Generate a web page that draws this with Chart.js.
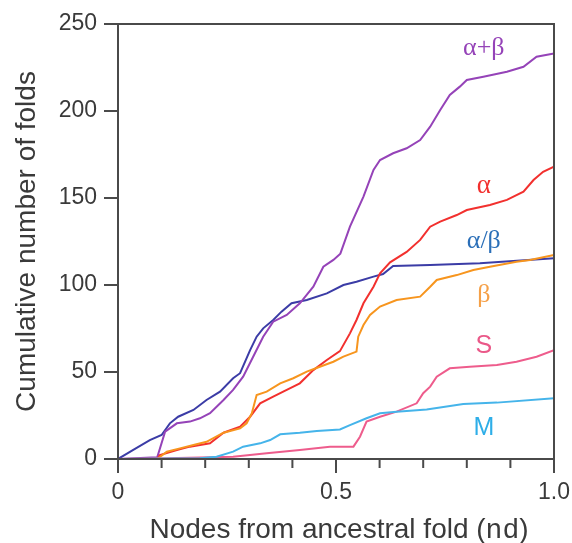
<!DOCTYPE html>
<html>
<head>
<meta charset="utf-8">
<script src="https://cdn.jsdelivr.net/npm/chart.js@4"></script>
<style>
  html, body { margin: 0; padding: 0; background: #fff; }
  canvas { display: block; }
</style>
</head>
<body>
<canvas id="foldsChart" width="572" height="543"></canvas>
<script>
// Datos: nodos desde el pliegue ancestral (nd) vs. pliegues acumulados
const alphaBetaX = [0, 0.09, 0.108, 0.135, 0.165, 0.188, 0.211, 0.242, 0.264, 0.287, 0.31, 0.333, 0.356, 0.387, 0.417, 0.448, 0.471, 0.494, 0.51, 0.532, 0.563, 0.586, 0.601, 0.631, 0.662, 0.693, 0.716, 0.739, 0.761, 0.784, 0.8, 0.838, 0.892, 0.93, 0.96, 1.0];
const alphaBetaY = [0, 1, 15.7, 20.5, 21.5, 23.4, 26.3, 33.9, 39.7, 47.3, 58.8, 70.3, 78.9, 82.8, 89.5, 99, 110.5, 114.4, 118, 133.5, 150.8, 166.1, 171.8, 175.7, 178.6, 183.3, 191, 200.6, 209.2, 214, 217.8, 219.7, 222.6, 225.4, 231.2, 233];

const alphaSlashBetaX = [0, 0.035, 0.073, 0.1, 0.119, 0.138, 0.173, 0.203, 0.234, 0.264, 0.28, 0.303, 0.318, 0.333, 0.356, 0.375, 0.398, 0.433, 0.479, 0.517, 0.547, 0.586, 0.608, 0.631, 0.716, 0.83, 1.0];
const alphaSlashBetaY = [0, 5.2, 10.9, 13.8, 20.5, 24.3, 28.2, 33.9, 38.7, 46.4, 49.3, 62.6, 70.3, 75.1, 79.9, 84.7, 89.5, 91.4, 95.2, 100, 101.9, 104.8, 106.3, 110.9, 111.5, 112.5, 115.4];

const alphaX = [0, 0.09, 0.096, 0.135, 0.165, 0.211, 0.242, 0.28, 0.303, 0.326, 0.356, 0.387, 0.417, 0.448, 0.479, 0.509, 0.532, 0.547, 0.563, 0.586, 0.601, 0.624, 0.662, 0.693, 0.716, 0.739, 0.777, 0.8, 0.853, 0.892, 0.93, 0.953, 0.975, 1.0];
const alphaY = [0, 0, 2.3, 5.2, 7.1, 9, 15.1, 18.6, 24.3, 32, 35.8, 39.7, 43.5, 51.1, 56.9, 62, 72.2, 79.9, 89.5, 99, 106.7, 113, 119, 125.9, 133.5, 136.4, 140.2, 143.1, 146, 148.9, 153.6, 160.3, 165.1, 168];

const betaX = [0, 0.09, 0.112, 0.142, 0.173, 0.203, 0.242, 0.28, 0.295, 0.307, 0.318, 0.341, 0.372, 0.402, 0.433, 0.463, 0.494, 0.517, 0.547, 0.551, 0.563, 0.578, 0.601, 0.639, 0.693, 0.716, 0.731, 0.777, 0.815, 0.853, 0.914, 0.945, 1.0];
const betaY = [0, 0, 4.2, 6.1, 8, 9.9, 15.1, 17.6, 20.5, 26.3, 36.8, 38.7, 43.5, 46.4, 50.2, 53, 55.9, 58.8, 61.7, 70.3, 77, 82.8, 87.6, 91.4, 93.3, 99, 102.9, 105.7, 108.6, 110.5, 113.4, 114.4, 117.2];

const smallX = [0, 0.112, 0.264, 0.341, 0.417, 0.486, 0.54, 0.555, 0.57, 0.601, 0.639, 0.685, 0.7, 0.716, 0.731, 0.761, 0.807, 0.869, 0.914, 0.96, 1.0];
const smallY = [0, 0.4, 1.3, 3.3, 5.2, 7.1, 7.1, 12.8, 21.5, 24.3, 27.2, 32, 37.8, 41.6, 47.3, 52.1, 53, 54, 55.9, 58.8, 62.6];

const membraneX = [0, 0.188, 0.226, 0.264, 0.287, 0.326, 0.349, 0.372, 0.417, 0.456, 0.509, 0.532, 0.57, 0.601, 0.639, 0.708, 0.792, 0.869, 1.0];
const membraneY = [0, 0.4, 1.3, 4.2, 7.1, 9, 10.9, 14.2, 15.1, 16.1, 17, 19.5, 23.4, 26.3, 27.2, 28.5, 31.6, 32.4, 34.9];

const yTicks = [0, 50, 100, 150, 200, 250];
const xLabels = { 0: '0', 0.5: '0.5', 1: '1.0' };

// Función para juntar x e y en puntos
function puntos(xs, ys) {
    return xs.map((x, i) => ({ x: x, y: ys[i] }));
}

function serie(label, xs, ys, color) {
    return {
        label: label,
        data: puntos(xs, ys),
        borderColor: color,
        borderWidth: 2,
        pointRadius: 0,
        fill: false,
        showLine: true,
        tension: 0
    };
}

// Etiquetas de cada curva (en coordenadas de datos)
const etiquetas = [
    { text: 'α+β', x: 0.839, y: 232.2, color: '#9543b8', font: '26px "Liberation Serif"' },
    { text: 'α', x: 0.839, y: 152.9, color: '#f2302e', font: '27px "Liberation Serif"' },
    { text: 'α/β', x: 0.839, y: 121.3, color: '#2b6fb8', font: '26px "Liberation Serif"' },
    { text: 'β', x: 0.839, y: 90.2, color: '#f5a048', font: '26px "Liberation Serif"' },
    { text: 'S', x: 0.839, y: 60.9, color: '#ea5888', font: '25px "Liberation Sans"' },
    { text: 'M', x: 0.839, y: 13.8, color: '#2eaee8', font: '25px "Liberation Sans"' }
];

const axisColor = '#4a4a4a';

// Quitar el relleno extra que Chart.js deja para las etiquetas
function sinRelleno(s) {
    s.paddingTop = 0;
    s.paddingBottom = 0;
    s.paddingLeft = 0;
    s.paddingRight = 0;
}

// Plugin para ejes, marco, marcas y textos
const ejesPlugin = {
    id: 'ejes',
    afterDraw(chart) {
        const ctx = chart.ctx;
        const xs = chart.scales.x;
        const ys = chart.scales.y;
        const left = xs.getPixelForValue(0);
        const right = xs.getPixelForValue(1);
        const top = ys.getPixelForValue(250);
        const bottom = ys.getPixelForValue(0);

        ctx.save();
        ctx.strokeStyle = axisColor;
        ctx.lineWidth = 2;
        ctx.lineCap = 'butt';
        ctx.beginPath();
        // marco
        ctx.moveTo(left, top);
        ctx.lineTo(left, bottom);
        ctx.moveTo(left, bottom);
        ctx.lineTo(right, bottom);
        ctx.moveTo(left - 14, top);
        ctx.lineTo(right + 1, top);
        ctx.moveTo(right, top);
        ctx.lineTo(right, bottom);
        // marcas eje y
        yTicks.forEach(v => {
            const py = ys.getPixelForValue(v);
            ctx.moveTo(left - 14, py);
            ctx.lineTo(left, py);
        });
        // marcas eje x
        for (let i = 0; i <= 10; i++) {
            const v = i / 10;
            const px = xs.getPixelForValue(v);
            const len = (i === 0 || i === 5 || i === 10) ? 14 : 9;
            ctx.moveTo(px, bottom);
            ctx.lineTo(px, bottom + len);
        }
        ctx.stroke();

        // etiquetas de curvas
        ctx.textAlign = 'center';
        ctx.textBaseline = 'alphabetic';
        etiquetas.forEach(e => {
            ctx.fillStyle = e.color;
            ctx.font = e.font;
            ctx.fillText(e.text, xs.getPixelForValue(e.x), ys.getPixelForValue(e.y));
        });

        // título del eje x con "nd" en monoespaciada
        const sans = '28px "Liberation Sans", Arial, sans-serif';
        const mono = '28px "Liberation Mono", "DejaVu Sans Mono", monospace';
        const parte1 = 'Nodes from ancestral fold (';
        const parte2 = 'nd';
        const parte3 = ')';
        ctx.font = sans;
        const w1 = ctx.measureText(parte1).width;
        const w3 = ctx.measureText(parte3).width;
        ctx.font = mono;
        const w2 = ctx.measureText(parte2).width;
        const total = w1 + w2 + w3;
        let cx = (left + right) / 2 + 3 - total / 2;
        const base = 538;
        ctx.fillStyle = '#3a3a3a';
        ctx.textAlign = 'left';
        ctx.font = sans;
        ctx.fillText(parte1, cx, base);
        cx += w1;
        ctx.font = mono;
        ctx.fillText(parte2, cx, base);
        cx += w2;
        ctx.font = sans;
        ctx.fillText(parte3, cx, base);
        ctx.restore();
    }
};

const foldsChart = new Chart(document.getElementById('foldsChart'), {
    type: 'scatter',
    data: {
        datasets: [
            serie('M', membraneX, membraneY, '#45b4ea'),
            serie('S', smallX, smallY, '#ee5c8c'),
            serie('β', betaX, betaY, '#f7951e'),
            serie('α', alphaX, alphaY, '#f2302e'),
            serie('α+β', alphaBetaX, alphaBetaY, '#9543b8'),
            serie('α/β', alphaSlashBetaX, alphaSlashBetaY, '#3b3ca6')
        ]
    },
    options: {
        responsive: false,
        animation: false,
        layout: { padding: { top: 24, right: 18, left: 0, bottom: 0 } },
        plugins: {
            legend: { display: false },
            tooltip: { enabled: false }
        },
        scales: {
            x: {
                type: 'linear',
                min: 0,
                max: 1,
                afterFit: s => { s.height = 84; sinRelleno(s); },
                afterBuildTicks: s => { s.ticks = [0, 0.5, 1].map(v => ({ value: v })); },
                grid: { display: false },
                border: { display: false },
                ticks: {
                    padding: 12,
                    maxRotation: 0,
                    color: '#3a3a3a',
                    font: { family: '"Liberation Sans", Arial, sans-serif', size: 23 },
                    callback: v => xLabels[v]
                }
            },
            y: {
                min: 0,
                max: 250,
                afterFit: s => { s.width = 118; sinRelleno(s); },
                afterBuildTicks: s => { s.ticks = yTicks.map(v => ({ value: v })); },
                grid: { display: false },
                border: { display: false },
                ticks: {
                    padding: 13,
                    color: '#3a3a3a',
                    font: { family: '"Liberation Sans", Arial, sans-serif', size: 23 }
                },
                title: {
                    display: true,
                    text: 'Cumulative number of folds',
                    color: '#3a3a3a',
                    font: { family: '"Liberation Sans", Arial, sans-serif', size: 28 },
                    padding: { top: 10, bottom: 0 }
                }
            }
        }
    },
    plugins: [ejesPlugin]
});
</script>
</body>
</html>
